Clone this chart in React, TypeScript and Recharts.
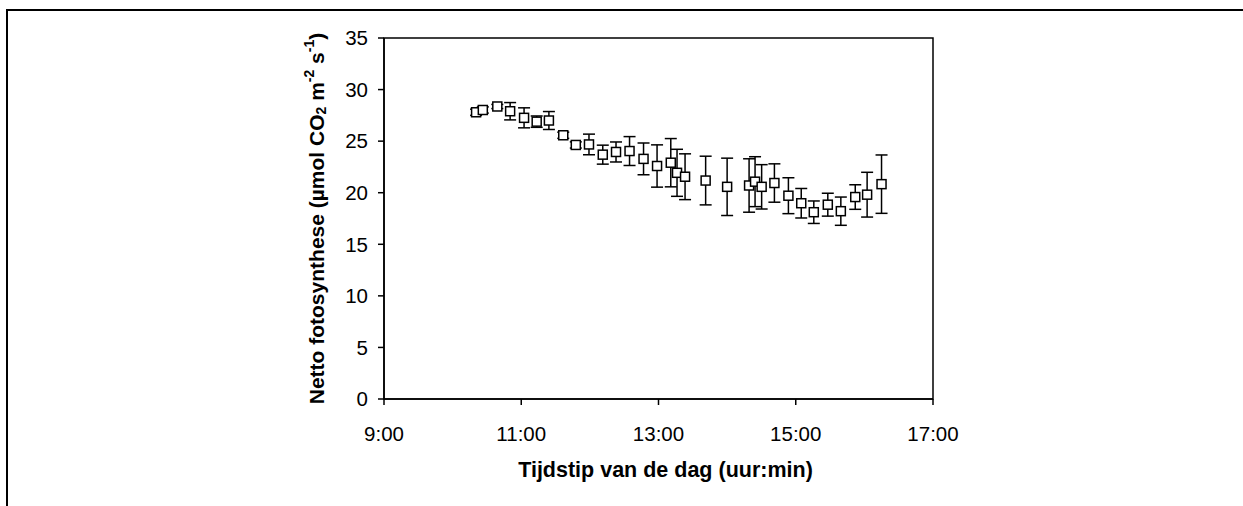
import React from 'react';
import { ScatterChart, Scatter, XAxis, YAxis, ErrorBar, ReferenceArea } from 'recharts';

// time in decimal hours
const times = [10.342, 10.44, 10.651, 10.838, 11.041, 11.225, 11.403, 11.612, 11.795, 11.987, 12.188, 12.381, 12.578, 12.782, 12.979, 13.179, 13.27, 13.387, 13.687, 14.0, 14.32, 14.407, 14.503, 14.689, 14.893, 15.08, 15.263, 15.467, 15.657, 15.867, 16.04, 16.25];
const photo = [27.8, 28.02, 28.36, 27.9, 27.26, 26.89, 27.0, 25.57, 24.63, 24.68, 23.69, 23.95, 24.04, 23.28, 22.59, 22.91, 21.93, 21.55, 21.18, 20.57, 20.7, 21.07, 20.57, 20.94, 19.71, 18.98, 18.11, 18.84, 18.21, 19.58, 19.81, 20.83];
const errs = [0.3, 0.3, 0.2, 0.84, 0.97, 0.55, 0.87, 0.3, 0.3, 1.0, 0.92, 0.97, 1.4, 1.54, 2.05, 2.34, 2.28, 2.22, 2.36, 2.78, 2.59, 2.42, 2.15, 1.86, 1.74, 1.43, 1.09, 1.11, 1.37, 1.19, 2.17, 2.83];
const xTicks = [9, 11, 13, 15, 17];
const yTicks = [0, 5, 10, 15, 20, 25, 30, 35];

const data = times.map((t, i) => ({ t, v: photo[i], e: errs[i] }));

const FONT = 'Arial, "Liberation Sans", sans-serif';

const Square = (props: any) => {
  const { cx, cy } = props;
  if (cx == null || cy == null) return null;
  const s = 9;
  return <rect x={cx - s / 2} y={cy - s / 2} width={s} height={s} fill="#fff" stroke="#000" strokeWidth={1.5} />;
};
const Nothing = () => null;

const YLabel = (props: any) => {
  const vb = props.viewBox || {};
  const cx = vb.x + vb.width - 66;
  const cy = vb.y + vb.height / 2;
  return (
    <text x={cx} y={cy} transform={`rotate(-90, ${cx}, ${cy})`} textAnchor="middle" dominantBaseline="middle"
      fontFamily={FONT} fontWeight="bold" fontSize={21} fill="#000">
      <tspan>Netto fotosynthese (µmol CO</tspan>
      <tspan fontSize={14} dy={4}>2</tspan>
      <tspan dy={-4}> m</tspan>
      <tspan fontSize={14} dy={-8}>-2</tspan>
      <tspan dy={8}> s</tspan>
      <tspan fontSize={14} dy={-8}>-1</tspan>
      <tspan dy={8}>)</tspan>
    </text>
  );
};

export default function App() {
  return (
    <div style={{ position: 'absolute', left: 0, top: 0, width: 1243, height: 506, background: '#fff' }}>
      <div style={{ position: 'absolute', left: 6, top: 9, width: 1237, height: 497, borderTop: '2px solid #000', borderLeft: '2px solid #000', boxSizing: 'border-box' }} />
      <ScatterChart width={1243} height={506} margin={{ top: 38, right: 310, left: 0, bottom: 77 }}>
        <XAxis type="number" dataKey="t" domain={[9, 17]} ticks={xTicks} tickFormatter={(h: number) => `${h}:00`}
          tickSize={6} tickMargin={21} height={30} stroke="#000" strokeWidth={1.5}
          tick={{ fill: '#000', fontSize: 20.5, fontFamily: FONT }} interval={0}
          label={{ value: 'Tijdstip van de dag (uur:min)', position: 'bottom', offset: 33, dx: 7, fill: '#000', fontSize: 21.5, fontWeight: 'bold', fontFamily: FONT }} />
        <YAxis type="number" dataKey="v" domain={[0, 35]} ticks={yTicks} width={384}
          tickSize={6} tickMargin={10} stroke="#000" strokeWidth={1.5} interval={0}
          tick={{ fill: '#000', fontSize: 20.5, fontFamily: FONT }}
          label={{ content: YLabel }} />
        <ReferenceArea x1={9} x2={17} y1={0} y2={35} fill="none" stroke="#000" strokeWidth={1.5} ifOverflow="visible" />
        <Scatter data={data} shape={Nothing} isAnimationActive={false}>
          <ErrorBar dataKey="e" width={6} stroke="#000" strokeWidth={1.5} direction="y" isAnimationActive={false} />
        </Scatter>
        <Scatter data={data} shape={Square} isAnimationActive={false} />
      </ScatterChart>
    </div>
  );
}
